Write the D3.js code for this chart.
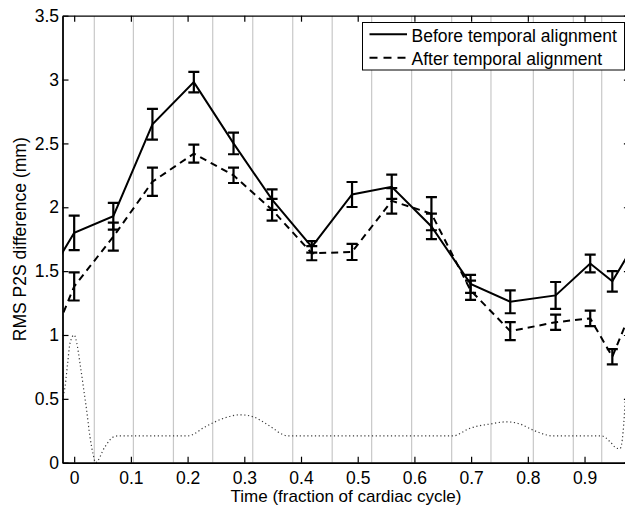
<!DOCTYPE html>
<html>
<head>
<meta charset="utf-8">
<script src="https://cdn.jsdelivr.net/npm/d3@7/dist/d3.min.js"></script>
<style>
  html, body { margin: 0; padding: 0; background: #fff; }
  svg { display: block; font-family: "Liberation Sans", Arial, Helvetica, sans-serif; }
</style>
</head>
<body>
<svg id="chart" width="625" height="507"></svg>
<script>
// Frame times across one cardiac cycle (fraction of cycle)
const frameTimes = [0, 0.069, 0.138, 0.211, 0.281, 0.349, 0.419, 0.490, 0.560, 0.630, 0.699, 0.769, 0.849, 0.910, 0.949];

// RMS point-to-surface difference (mm), mean and error half-width per frame
const beforeMean = [1.80, 1.93, 2.65, 2.98, 2.50, 2.06, 1.69, 2.10, 2.16, 1.85, 1.40, 1.26, 1.31, 1.56, 1.42];
const beforeErr  = [0.135, 0.105, 0.12, 0.08, 0.085, 0.08, 0.045, 0.098, 0.095, 0.10, 0.07, 0.09, 0.105, 0.07, 0.08];
const afterMean  = [1.38, 1.77, 2.20, 2.42, 2.25, 1.98, 1.64, 1.65, 2.05, 1.95, 1.35, 1.03, 1.10, 1.13, 0.83];
const afterErr   = [0.11, 0.11, 0.11, 0.07, 0.06, 0.085, 0.055, 0.063, 0.10, 0.13, 0.075, 0.07, 0.06, 0.06, 0.06];

// Phase boundaries (grey vertical lines)
const phaseBounds = [0.0355, 0.1044, 0.175, 0.2443, 0.3149, 0.3854, 0.455, 0.5246, 0.5951, 0.6657, 0.735, 0.8097, 0.8802, 0.9303];

// ECG-like reference trace (time, amplitude)
const traceTimes  = [-0.025, -0.0206, -0.016, -0.0115, -0.0074, 0, 0.0044, 0.0102, 0.016, 0.022, 0.0279, 0.0337, 0.0376, 0.0543, 0.0684, 0.0772, 0.2007, 0.2307, 0.26, 0.2924, 0.3153, 0.333, 0.3506, 0.368, 0.377, 0.668, 0.698, 0.7333, 0.7628, 0.7862, 0.809, 0.8333, 0.8427, 0.9303, 0.9449, 0.9568, 0.9626, 0.968, 0.972];
const traceValues = [0.40, 0.50, 0.60, 0.78, 0.935, 1.0, 0.94, 0.78, 0.60, 0.41, 0.20, 0.06, 0.0, 0.125, 0.20, 0.21, 0.21, 0.28, 0.342, 0.375, 0.36, 0.32, 0.27, 0.22, 0.21, 0.21, 0.27, 0.303, 0.32, 0.303, 0.256, 0.217, 0.21, 0.21, 0.165, 0.113, 0.11, 0.24, 0.50];

const xTicks = [0, 0.1, 0.2, 0.3, 0.4, 0.5, 0.6, 0.7, 0.8, 0.9];
const yTicks = [0, 0.5, 1, 1.5, 2, 2.5, 3, 3.5];
const seriesNames = ["Before temporal alignment", "After temporal alignment"];

const svg = d3.select("#chart");
const pLeft = 62.5, pRight = 629.9, pTop = 15.7, pBottom = 462.7;
const FS = 17.5;

const x = d3.scaleLinear().domain([-0.0206, 0.98]).range([pLeft, pRight]);
const y = d3.scaleLinear().domain([0, 3.5]).range([pBottom, pTop]);

svg.append("defs").append("clipPath").attr("id", "plotClip")
  .append("rect").attr("x", pLeft).attr("y", pTop)
  .attr("width", pRight - pLeft).attr("height", pBottom - pTop);

const plot = svg.append("g").attr("clip-path", "url(#plotClip)");

// grey phase boundaries
plot.selectAll("line.phase").data(phaseBounds).enter().append("line")
  .attr("class", "phase")
  .attr("x1", d => x(d)).attr("x2", d => x(d))
  .attr("y1", pTop).attr("y2", pBottom)
  .attr("stroke", "#c8c8c8").attr("stroke-width", 1.2);

// reference trace
const traceLine = d3.line().x(d => x(d[0])).y(d => y(d[1])).curve(d3.curveMonotoneX);
plot.append("path")
  .datum(traceTimes.map((t, i) => [t, traceValues[i]]))
  .attr("d", traceLine)
  .attr("fill", "none").attr("stroke", "#3a3a3a").attr("stroke-width", 1.2)
  .attr("stroke-dasharray", "1.2,2.6");

// periodic series: previous cycle's last frame and next cycle's first frame
function cyclic(means) {
  const pts = frameTimes.map((t, i) => [t, means[i]]);
  const n = pts.length;
  return [[frameTimes[n - 1] - 1, means[n - 1]], ...pts, [frameTimes[0] + 1, means[0]]];
}

const seriesLine = d3.line().x(d => x(d[0])).y(d => y(d[1]));
const series = [
  { mean: beforeMean, err: beforeErr, dash: null },
  { mean: afterMean, err: afterErr, dash: "7,5" }
];

series.forEach(s => {
  plot.append("path")
    .datum(cyclic(s.mean))
    .attr("d", seriesLine)
    .attr("fill", "none").attr("stroke", "#000").attr("stroke-width", 2)
    .attr("stroke-dasharray", s.dash);

  const bars = plot.append("g");
  frameTimes.forEach((t, i) => {
    const cx = x(t), y1 = y(s.mean[i] + s.err[i]), y0 = y(s.mean[i] - s.err[i]);
    bars.append("line").attr("x1", cx).attr("x2", cx).attr("y1", y1).attr("y2", y0)
      .attr("stroke", "#000").attr("stroke-width", 2.2);
    [y1, y0].forEach(yy => {
      bars.append("line").attr("x1", cx - 5.5).attr("x2", cx + 5.5).attr("y1", yy).attr("y2", yy)
        .attr("stroke", "#000").attr("stroke-width", 2.2);
    });
  });
});

// axes with inward ticks
function styleAxis(g) {
  g.selectAll("path.domain").attr("stroke", "#000").attr("stroke-width", 1.8);
  g.selectAll(".tick line").attr("stroke", "#000").attr("stroke-width", 1.2);
  g.selectAll(".tick text").attr("fill", "#000").style("font-size", FS + "px")
    .style("font-family", '"Liberation Sans", Arial, Helvetica, sans-serif');
}

svg.append("g").attr("transform", `translate(0,${pBottom})`)
  .call(d3.axisBottom(x).tickValues(xTicks).tickFormat(d3.format("")).tickSizeInner(-6).tickSizeOuter(0).tickPadding(8.5))
  .call(styleAxis);

svg.append("g").attr("transform", `translate(0,${pTop})`)
  .call(d3.axisTop(x).tickValues(xTicks).tickFormat("").tickSizeInner(-6).tickSizeOuter(0))
  .call(styleAxis)
  .selectAll("path.domain").attr("stroke-width", 1.2);

svg.append("g").attr("transform", `translate(${pLeft},0)`)
  .call(d3.axisLeft(y).tickValues(yTicks).tickFormat(d3.format("")).tickSizeInner(-6).tickSizeOuter(0).tickPadding(3.5))
  .call(styleAxis);

svg.append("g").attr("transform", `translate(${pRight},0)`)
  .call(d3.axisRight(y).tickValues(yTicks).tickFormat("").tickSizeInner(-6).tickSizeOuter(0))
  .call(styleAxis);

// axis titles
svg.append("text")
  .attr("x", 346).attr("y", 501.5)
  .attr("text-anchor", "middle").style("font-size", "17px")
  .text("Time (fraction of cardiac cycle)");

svg.append("text")
  .attr("transform", `translate(25.5,${(pTop + pBottom) / 2}) rotate(-90)`)
  .attr("text-anchor", "middle").style("font-size", FS + "px")
  .text("RMS P2S difference (mm)");

// legend
const legend = svg.append("g");
legend.append("rect")
  .attr("x", 362.5).attr("y", 22.5).attr("width", 262).attr("height", 47.5)
  .attr("fill", "#fff").attr("stroke", "#000").attr("stroke-width", 1);
series.forEach((s, i) => {
  const ly = 34.3 + i * 23.5;
  legend.append("line").attr("x1", 369.5).attr("x2", 407).attr("y1", ly).attr("y2", ly)
    .attr("stroke", "#000").attr("stroke-width", 2).attr("stroke-dasharray", s.dash ? "8,6" : null);
  legend.append("text").attr("x", 411.5).attr("y", 41.7 + i * 23.4)
    .style("font-size", FS + "px").text(seriesNames[i]);
});
</script>
</body>
</html>
